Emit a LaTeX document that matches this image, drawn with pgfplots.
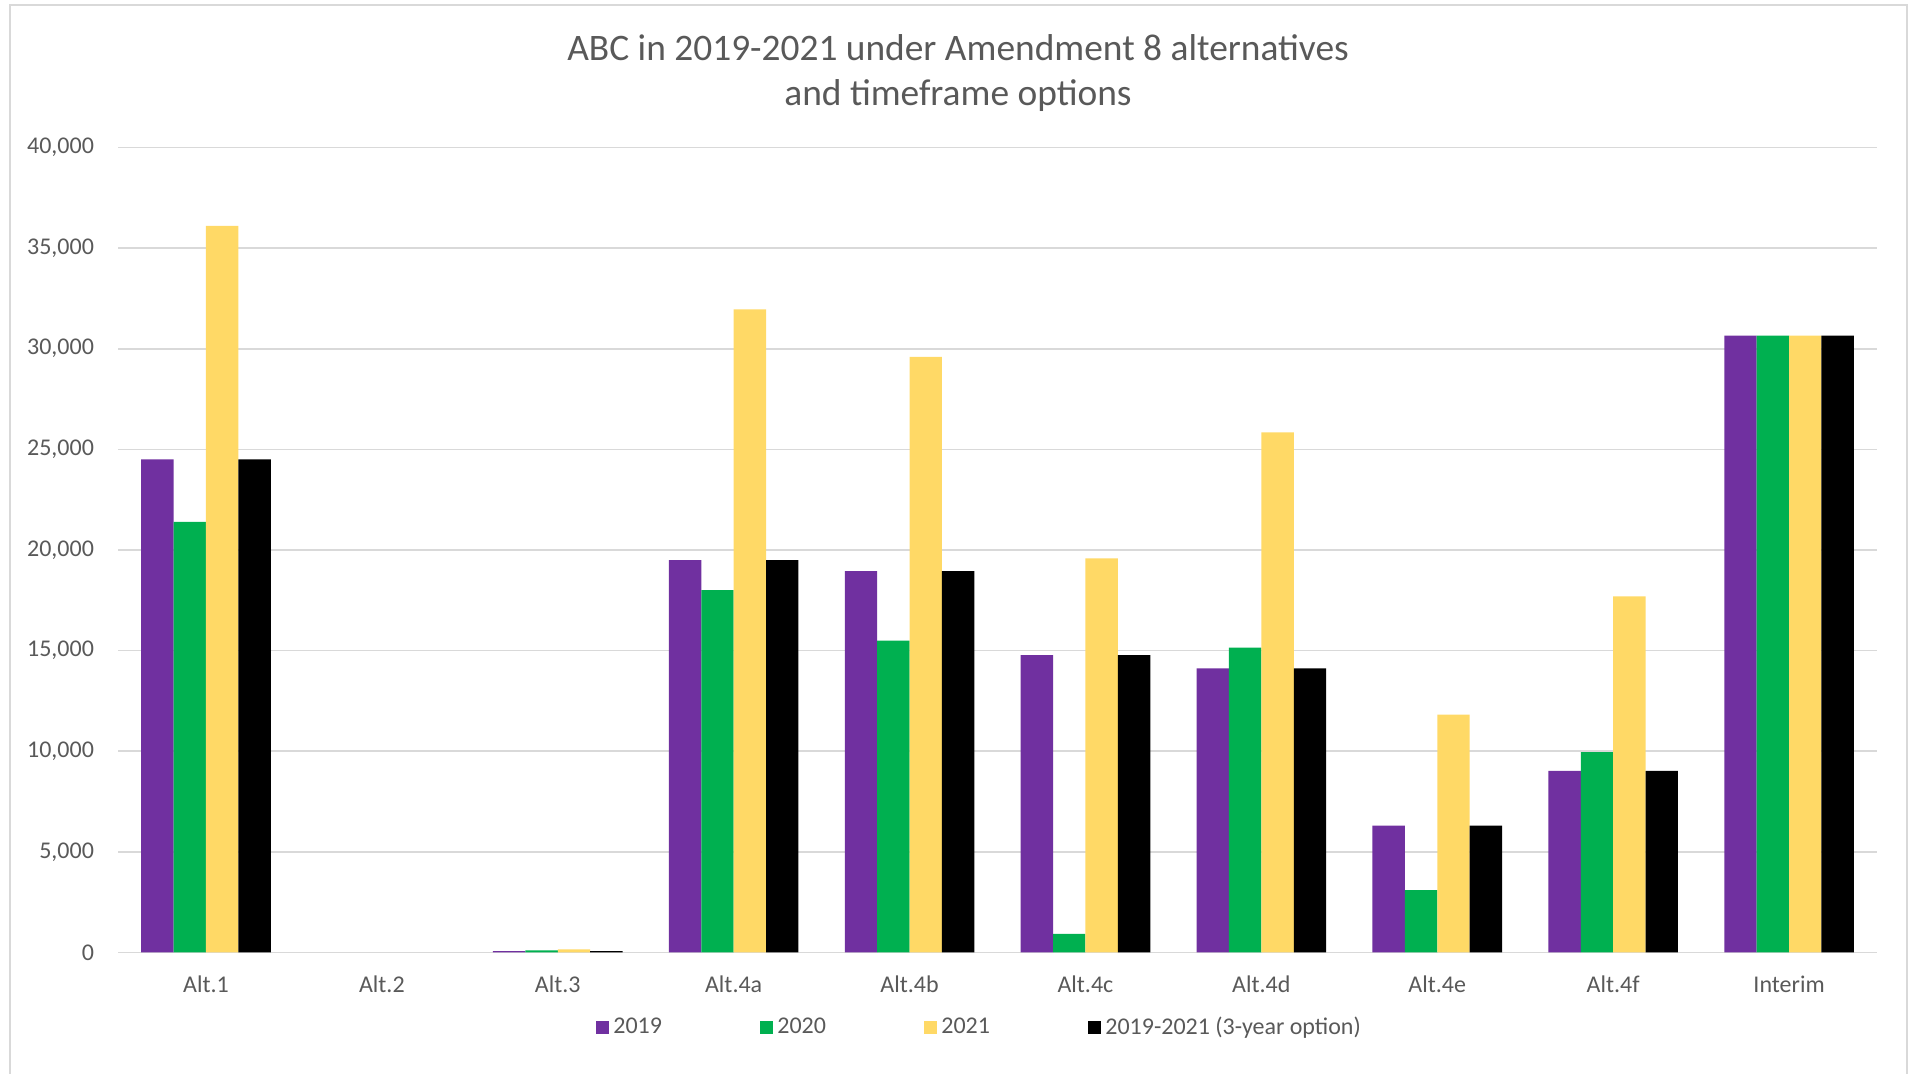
\documentclass[border=0pt]{standalone}
\usepackage{pgfplots}
\pgfplotsset{compat=1.18}
\usepackage{fontspec}
\setmainfont{Carlito}
\definecolor{cPurple}{HTML}{7030A0}
\definecolor{cGreen}{HTML}{00B050}
\definecolor{cYellow}{HTML}{FFD966}
\definecolor{cGrid}{HTML}{D9D9D9}
\definecolor{cText}{HTML}{595959}
\pgfplotstableread{
x v2019 v2020 v2021 v3yr
0 24500 21400 36100 24500
1 nan nan nan nan
2 70 100 160 70
3 19500 18000 31950 19500
4 18950 15500 29600 18950
5 14770 930 19580 14770
6 14120 15150 25850 14120
7 6300 3100 11820 6300
8 9030 9950 17700 9030
9 30650 30650 30650 30650
}\datatable
\begin{document}
\begin{tikzpicture}
\useasboundingbox (0,0) rectangle (955pt,537pt);
\draw[cGrid, line width=0.8pt] (5pt,0pt) -- (5pt,534.5pt) -- (953.5pt,534.5pt) -- (953.5pt,0pt);
\node[text=cText, font=\fontsize{18.7}{22.5}\selectfont, align=center] at (479pt,500.5pt) {ABC in 2019-2021 under Amendment 8 alternatives\\and timeframe options};
\begin{axis}[
  at={(59pt,60.75pt)}, anchor=south west,
  scale only axis, width=879.5pt, height=402.5pt,
  ybar=0pt, bar width=16.2pt,
  xmin=-0.5, xmax=9.5, ymin=0, ymax=40000,
  xtick={0,...,9},
  xticklabels={Alt.1,Alt.2,Alt.3,Alt.4a,Alt.4b,Alt.4c,Alt.4d,Alt.4e,Alt.4f,Interim},
  ytick={0,5000,...,40000},
  ymajorgrids, grid style={cGrid, line width=0.8pt},
  axis line style={draw=none},
  axis x line*=bottom,
  x axis line style={draw=cGrid, line width=0.8pt},
  axis y line*=left,
  y axis line style={draw=none},
  major tick length=0pt,
  tick label style={text=cText, font=\fontsize{12}{13}\selectfont},
  /pgf/number format/assume math mode=true,
  /pgf/number format/1000 sep={,},
  scaled y ticks=false,
  yticklabel style={xshift=-8.5pt},
  xticklabel style={yshift=-8pt},
  legend columns=4,
  legend style={at={(0.2683,-0.0933)}, anchor=west, draw=none, fill=none,
    font=\fontsize{12}{13}\selectfont, text=cText,
    /tikz/every odd column/.append style={column sep=0pt}},
  legend image code/.code={\fill[#1,draw=none] (0pt,-3pt) rectangle (6.5pt,3.5pt);},
  legend cell align=left,
]
\addplot[fill=cPurple, draw=none] table[x=x,y=v2019]{\datatable};
\addplot[fill=cGreen, draw=none] table[x=x,y=v2020]{\datatable};
\addplot[fill=cYellow, draw=none] table[x=x,y=v2021]{\datatable};
\addplot[fill=black, draw=none] table[x=x,y=v3yr]{\datatable};
\legend{\makebox[71.5pt][l]{2019},\makebox[71.5pt][l]{2020},\makebox[71.5pt][l]{2021},2019-2021 (3-year option)}
\end{axis}
\end{tikzpicture}
\end{document}
